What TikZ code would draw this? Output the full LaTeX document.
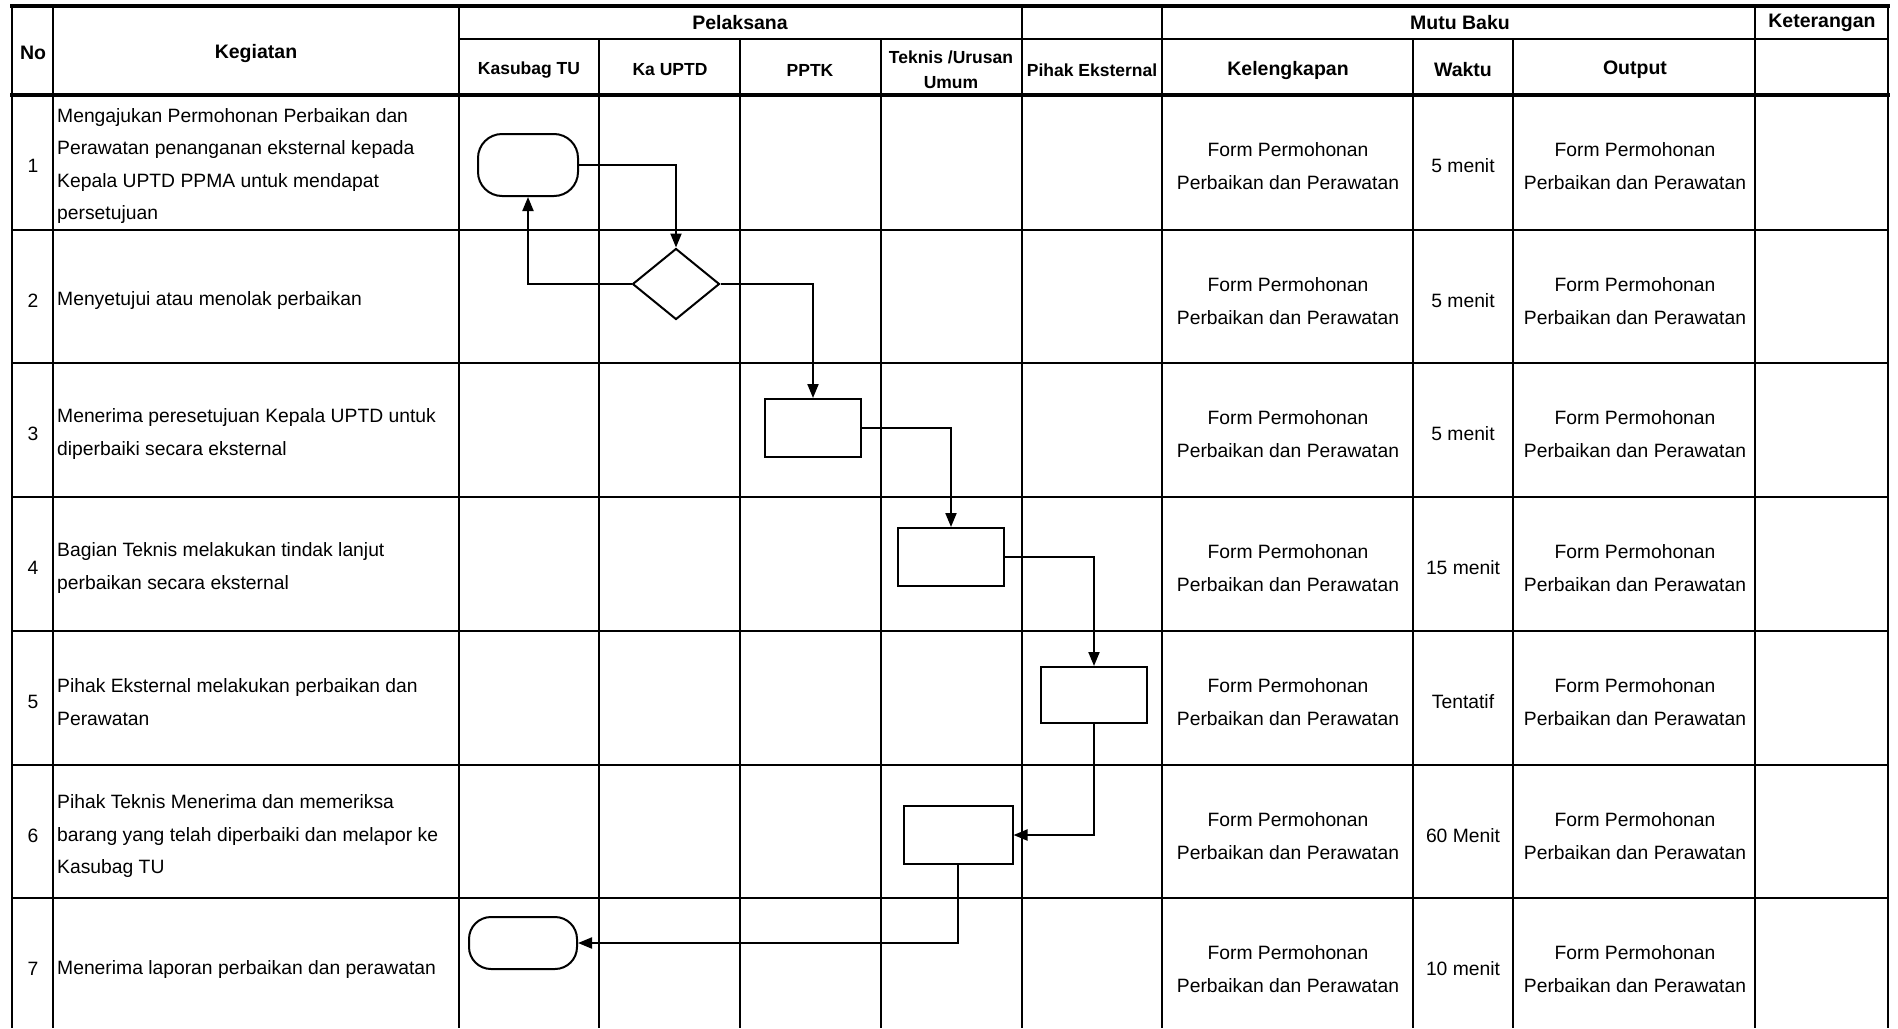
\documentclass[tikz,border=0pt]{standalone}
\usepackage{fontspec}
\setmainfont{Liberation Sans}
\usetikzlibrary{shapes.geometric,arrows.meta}

\begin{document}
\begin{tikzpicture}[x=1pt,y=-1pt,
                    grid/.style={line width=1.6pt},
                    rule/.style={line width=2.2pt},
                    heavy/.style={line width=4pt},
                    head/.style={font=\bfseries\fontsize{19.5}{24}\selectfont,align=center},
                    lane/.style={font=\bfseries\fontsize{17.5}{25}\selectfont,align=center},
                    body/.style={font=\fontsize{19.3}{32.5}\selectfont,align=left,
                                 anchor=west,inner sep=0pt},
                    cell/.style={font=\fontsize{19.3}{32.5}\selectfont,align=center,inner sep=0pt},
                    terminal/.style={draw,fill=white,line width=2pt,rounded corners=24pt,
                                     minimum width=100pt,minimum height=62pt},
                    process/.style={draw,fill=white,line width=2pt,
                                    minimum width=106pt,minimum height=58pt},
                    decision/.style={draw,fill=white,diamond,line width=2pt,inner sep=0pt,
                                     minimum width=87pt,minimum height=71pt},
                    flow/.style={line width=2pt,-{Triangle[length=14pt,width=11pt]}}]
  \useasboundingbox (0,0) rectangle (1898,1028);

  % table rules
  \draw[heavy] (10,6) -- (1890,6);
  \draw[rule] (459,39) -- (1888,39);
  \draw[heavy] (10,95) -- (1890,95);
  \foreach \y in {230,363,497,631,765,898}
    \draw[rule] (12,\y) -- (1888,\y);
  \draw[line width=2.5pt] (12,6) -- (12,1028);
  \foreach \x in {53,459,1022,1162,1755,1888}
    \draw[grid] (\x,6) -- (\x,1028);
  \foreach \x in {599,740,881,1413,1513}
    \draw[grid] (\x,39) -- (\x,1028);

  % header
  \node[head] (no) at (33,53) {No};
  \node[head] (kegiatan) at (256,53) {Kegiatan};
  \node[head] (pelaksana) at (740,23) {Pelaksana};
  \node[head] (mutu) at (1460,23) {Mutu Baku};
  \node[head] (keterangan) at (1822,23) {Keterangan};
  \node[lane] (kasubag) at (529,70) {Kasubag TU};
  \node[lane] (kauptd) at (670,70) {Ka UPTD};
  \node[lane] (pptk) at (810,70) {PPTK};
  \node[lane] (teknis) at (951,70) {Teknis /Urusan\\Umum};
  \node[lane] (eksternal) at (1092,70) {Pihak Eksternal};
  \node[head] (kelengkapan) at (1288,70) {Kelengkapan};
  \node[head] (waktu) at (1463,70) {Waktu};
  \node[head] (output) at (1635,70) {Output};

  % rows
  \foreach \rowtop/\uraian/\durasi [count=\i] in {
      95/{Mengajukan Permohonan Perbaikan dan\\Perawatan penanganan eksternal kepada\\Kepala UPTD PPMA untuk mendapat\\persetujuan}/5 menit,
      230/{Menyetujui atau menolak perbaikan}/5 menit,
      363/{Menerima peresetujuan Kepala UPTD untuk\\diperbaiki secara eksternal}/5 menit,
      497/{Bagian Teknis melakukan tindak lanjut\\perbaikan secara eksternal}/15 menit,
      631/{Pihak Eksternal melakukan perbaikan dan\\Perawatan}/Tentatif,
      765/{Pihak Teknis Menerima dan memeriksa\\barang yang telah diperbaiki dan melapor ke\\Kasubag TU}/60 Menit,
      898/{Menerima laporan perbaikan dan perawatan}/10 menit} {
    \node[cell] (no\i) at (33,\rowtop+71) {\i};
    \node[body] (keg\i) at (57,\rowtop+71) {\uraian};
    \node[cell] (lkp\i) at (1288,\rowtop+71) {Form Permohonan\\Perbaikan dan Perawatan};
    \node[cell] (wkt\i) at (1463,\rowtop+71) {\durasi};
    \node[cell] (out\i) at (1635,\rowtop+71) {Form Permohonan\\Perbaikan dan Perawatan};
  }

  % flow
  \node[terminal] (mulai) at (528,165) {};
  \node[decision] (setuju) at (676,284) {};
  \node[process,minimum width=96pt] (terima) at (813,428) {};
  \node[process] (tindak) at (951,557) {};
  \node[process,minimum height=56pt] (perbaikan) at (1094,695) {};
  \node[process,minimum width=109pt] (periksa) at (958,835) {};
  \node[terminal,minimum width=108pt,minimum height=52pt,rounded corners=22pt] (selesai) at (523,943) {};

  \draw[flow] (mulai.east) -| (setuju.north);
  \draw[flow] (setuju.west) -| (mulai.south);
  \draw[flow] (setuju.east) -| (terima.north);
  \draw[flow] (terima.east) -| (tindak.north);
  \draw[flow] (tindak.east) -| (perbaikan.north);
  \draw[flow] (perbaikan.south) |- (periksa.east);
  \draw[flow] (periksa.south) |- (selesai.east);
\end{tikzpicture}
\end{document}
